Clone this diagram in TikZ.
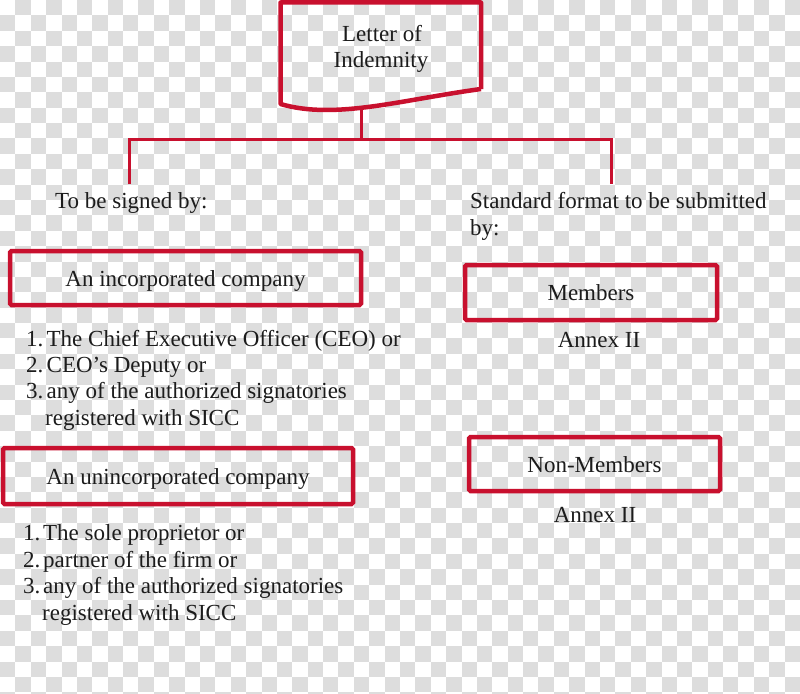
\documentclass[tikz,border=0pt]{standalone}
\usepackage{fontspec}
\setmainfont{Liberation Serif}
\definecolor{lred}{RGB}{200,16,46}
\definecolor{chk}{RGB}{221,221,221}
\definecolor{ink}{RGB}{28,28,28}
\newcommand\lbltxt{\fontsize{23}{26}\selectfont}
\begin{document}
\begin{tikzpicture}[x=1pt,y=-1pt,
  box/.style={draw=lred, line width=4.5pt, rounded corners=1.5pt, inner sep=0pt,
    font=\lbltxt, text=ink, text height=16.6pt, text depth=0pt},
  lbl/.style={inner sep=0pt, font=\lbltxt, text=ink},
  conn/.style={draw=lred, line width=3pt}]
\useasboundingbox (0,0) rectangle (800,693);
% transparency checkerboard
\begin{scope}
\clip (0,0) rectangle (800,693);
\fill[white] (0,0) rectangle (800,693);
\foreach \i in {0,...,51}{\foreach \j in {0,...,45}{
  \pgfmathtruncatemacro\chkp{\i+\j}
  \ifodd\chkp \fill[chk] (\i*15.3846,\j*15.3846) rectangle ++(15.3846,15.3846); \fi
}}
\end{scope}
% document shape
\draw[lred, line width=4.5pt, line join=round]
  (481,89) -- (481,2.5) -- (280.5,2.5) -- (280.5,104)
  .. controls (335,120) and (400,100) .. (481,89);
\node[lbl, anchor=base] (doc1) at (382,42) {Letter of};
\node[lbl, anchor=base] (doc2) at (381,67) {Indemnity};
% connectors
\coordinate (docb) at (361,107.5);
\coordinate (jn) at (361,139.5);
\coordinate (lend) at (129,184);
\coordinate (rend) at (611,184);
\draw[conn] (docb) -- (jn);
\draw[conn] (lend) |- (jn) -| (rend);
% headings
\node[lbl, anchor=base west] (signed) at (55,208) {To be signed by:};
\node[lbl, anchor=base west] (std1) at (470,208) {Standard format to be submitted};
\node[lbl, anchor=base west] (std2) at (470,235) {by:};
% boxes
\node[box, minimum width=351pt, minimum height=54pt] (inc) at (185.5,278) {An incorporated company};
\node[box, minimum width=350pt, minimum height=56pt] (uninc) at (178,476) {An unincorporated company};
\node[box, minimum width=252pt, minimum height=55pt] (mem) at (591,292.5) {Members};
\node[box, minimum width=251pt, minimum height=54pt] (nonmem) at (594.5,464) {Non-Members};
\node[lbl, anchor=base] (annex1) at (599,347) {Annex II};
\node[lbl, anchor=base] (annex2) at (595,522) {Annex II};
% list 1
\node[lbl, anchor=base west] (la1) at (26,346) {\makebox[20.5pt][l]{1.}The Chief Executive Officer (CEO) or};
\node[lbl, anchor=base west] (la2) at (26,372) {\makebox[20.5pt][l]{2.}CEO’s Deputy or};
\node[lbl, anchor=base west] (la3) at (26,398) {\makebox[20.5pt][l]{3.}any of the authorized signatories};
\node[lbl, anchor=base west] (la4) at (45,425) {registered with SICC};
% list 2
\node[lbl, anchor=base west] (lb1) at (23,540) {\makebox[20pt][l]{1.}The sole proprietor or};
\node[lbl, anchor=base west] (lb2) at (23,567) {\makebox[20pt][l]{2.}partner of the firm or};
\node[lbl, anchor=base west] (lb3) at (23,593) {\makebox[20pt][l]{3.}any of the authorized signatories};
\node[lbl, anchor=base west] (lb4) at (42,620) {registered with SICC};
\end{tikzpicture}
\end{document}
